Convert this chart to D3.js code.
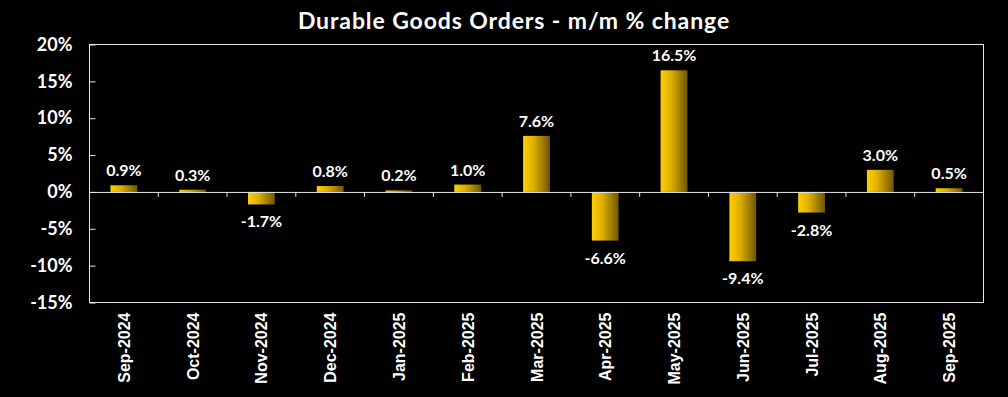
<!DOCTYPE html>
<html><head><meta charset="utf-8">
<script src="https://cdn.jsdelivr.net/npm/d3@7"></script>
<style>html,body{margin:0;padding:0;background:#000;}svg{display:block;}</style>
</head><body>
<svg id="chart" width="1008" height="397"></svg>
<script>
const categories = ["Sep-2024","Oct-2024","Nov-2024","Dec-2024","Jan-2025","Feb-2025","Mar-2025","Apr-2025","May-2025","Jun-2025","Jul-2025","Aug-2025","Sep-2025"];
const values = [0.9, 0.3, -1.7, 0.8, 0.2, 1.0, 7.6, -6.6, 16.5, -9.4, -2.8, 3.0, 0.5];
const yTicks = [-15, -10, -5, 0, 5, 10, 15, 20];
const title = "Durable Goods Orders - m/m % change";

const svg = d3.select("#chart");
const W = 1008, H = 397;
const m = {left: 89.5, right: 1008 - 983.5, top: 44.5, bottom: 397 - 302.5};
const iw = W - m.left - m.right, ih = H - m.top - m.bottom;
svg.append("rect").attr("width", W).attr("height", H).attr("fill", "#000");

const defs = svg.append("defs");
const grad = defs.append("linearGradient").attr("id", "gold").attr("x1", "0%").attr("x2", "100%").attr("y1", "0%").attr("y2", "0%");
grad.append("stop").attr("offset", "0%").attr("stop-color", "#ffcf00");
grad.append("stop").attr("offset", "40%").attr("stop-color", "#dcae00");
grad.append("stop").attr("offset", "100%").attr("stop-color", "#6e5600");

const x = d3.scaleBand().domain(categories).range([0, iw]).paddingInner(0.61).paddingOuter(0.305);
const xb = d3.scaleBand().domain(categories).range([0, iw]);
const y = d3.scaleLinear().domain([-15, 20]).range([ih, 0]);

const g = svg.append("g").attr("transform", `translate(${m.left},${m.top})`);

g.append("rect").attr("x", 0).attr("y", 0).attr("width", iw).attr("height", ih)
  .attr("fill", "none").attr("stroke", "#e6e6e6").attr("stroke-width", 1);

const yAxis = d3.axisLeft(y).tickValues(yTicks).tickSize(-6).tickPadding(17).tickFormat(d => d + "%");
const ya = g.append("g").call(yAxis);
ya.select(".domain").remove();
ya.selectAll(".tick line").attr("stroke", "#e6e6e6");
ya.selectAll(".tick text").attr("fill", "#fff").attr("font-family", "Lato, 'Open Sans', sans-serif")
  .attr("font-weight", "bold").attr("font-size", "18px");

g.selectAll(".bar").data(values).enter().append("rect")
  .attr("class", "bar")
  .attr("x", (d, i) => x(categories[i]))
  .attr("width", x.bandwidth())
  .attr("y", d => y(Math.max(0, d)))
  .attr("height", d => Math.abs(y(d) - y(0)))
  .attr("fill", "url(#gold)");

const xAxis = d3.axisBottom(xb).tickSize(0).tickFormat("");
const za = g.append("g").attr("transform", `translate(0,${y(0)})`).call(xAxis);
za.select(".domain").attr("stroke", "#e6e6e6");
za.selectAll(".tick").remove();
g.selectAll(".ctick").data(categories.slice(1)).enter().append("line")
  .attr("x1", d => xb(d)).attr("x2", d => xb(d))
  .attr("y1", y(0)).attr("y2", y(0) + 5)
  .attr("stroke", "#e6e6e6");

g.selectAll(".lbl").data(values).enter().append("text")
  .attr("x", (d, i) => xb(categories[i]) + xb.bandwidth() / 2)
  .attr("y", d => d >= 0 ? y(d) - 9 : y(d) + 23)
  .attr("text-anchor", "middle")
  .attr("fill", "#fff").attr("font-family", "Lato, 'Open Sans', sans-serif")
  .attr("font-weight", "bold").attr("font-size", "16px")
  .text(d => d.toFixed(1) + "%");

g.selectAll(".xl").data(categories).enter().append("text")
  .attr("transform", d => `translate(${xb(d) + xb.bandwidth() / 2 + 6},${ih + 10}) rotate(-90)`)
  .attr("text-anchor", "end")
  .attr("fill", "#fff").attr("font-family", "'Liberation Sans', Arial, sans-serif")
  .attr("font-weight", "bold").attr("font-size", "16px")
  .text(d => d);

svg.append("text").attr("x", 514).attr("y", 29).attr("text-anchor", "middle")
  .attr("fill", "#fff").attr("font-family", "Lato, 'Open Sans', sans-serif")
  .attr("font-weight", "bold").attr("font-size", "23px").attr("letter-spacing", "0.9px")
  .text(title);
</script>
</body></html>
